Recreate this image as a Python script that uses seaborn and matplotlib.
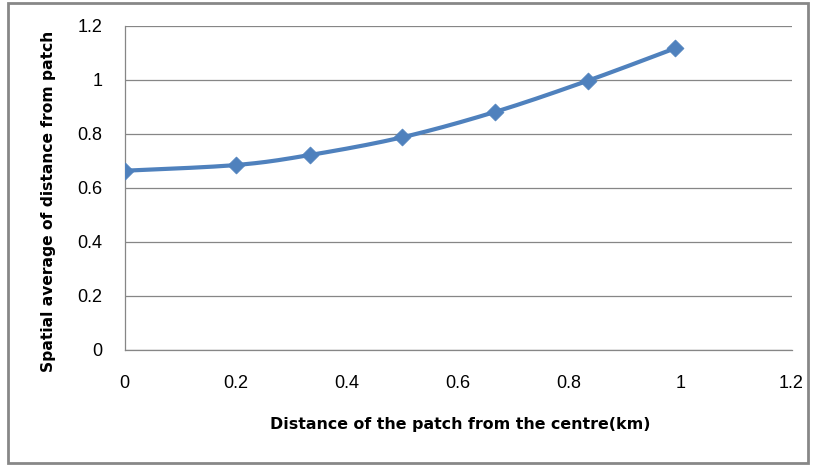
import numpy as np
import pandas as pd
import matplotlib
matplotlib.use("Agg")
import matplotlib.pyplot as plt
from matplotlib.patches import Rectangle
import seaborn as sns

# Distance of patch from centre (km) and spatial average of distance from patch
distance_km = [0.0, 0.2, 0.333, 0.5, 0.667, 0.833, 0.99]
spatial_avg = [0.664, 0.685, 0.722, 0.788, 0.882, 0.997, 1.117]

x_ticks = [0, 0.2, 0.4, 0.6, 0.8, 1, 1.2]
x_tick_labels = ["0", "0.2", "0.4", "0.6", "0.8", "1", "1.2"]
y_ticks = [0, 0.2, 0.4, 0.6, 0.8, 1, 1.2]
y_tick_labels = ["0", "0.2", "0.4", "0.6", "0.8", "1", "1.2"]

x_label = "Distance of the patch from the centre(km)"
y_label = "Spatial average of distance from patch"

LINE_BLUE = "#4F81BD"
GRID_GREY = "#868686"


def smooth_curve(xs, ys, steps=40):
    """Cubic Bezier smoothing through the points (Catmull-Rom style)."""
    p = np.column_stack([xs, ys]).astype(float)
    ext = np.vstack([p[0], p, p[-1]])
    out = []
    t = np.linspace(0, 1, steps)[:, None]
    for i in range(len(p) - 1):
        p0, p1, p2, p3 = ext[i], ext[i + 1], ext[i + 2], ext[i + 3]
        c1 = p1 + (p2 - p0) / 6.0
        c2 = p2 - (p3 - p1) / 6.0
        seg = ((1 - t) ** 3) * p1 + 3 * ((1 - t) ** 2) * t * c1 \
            + 3 * (1 - t) * t ** 2 * c2 + t ** 3 * p2
        out.append(seg if i == 0 else seg[1:])
    arr = np.vstack(out)
    return arr[:, 0], arr[:, 1]


sns.set_theme(style="white")
plt.rcParams["font.family"] = ["Liberation Sans", "DejaVu Sans"]
plt.rcParams["text.color"] = "black"
plt.rcParams["axes.labelcolor"] = "black"

fig = plt.figure(figsize=(8.16, 4.66), dpi=100)
ax = fig.add_axes([124.5 / 816, 1 - 350 / 466, 667 / 816, 324 / 466])

sx, sy = smooth_curve(distance_km, spatial_avg)
curve = pd.DataFrame({"x": sx, "y": sy})
points = pd.DataFrame({"x": distance_km, "y": spatial_avg})

sns.lineplot(data=curve, x="x", y="y", ax=ax, color=LINE_BLUE, linewidth=3,
             sort=False, estimator=None, zorder=3)
sns.scatterplot(data=points, x="x", y="y", ax=ax, color=LINE_BLUE, marker="D",
                s=75, edgecolor=LINE_BLUE, linewidth=0.5, zorder=4)

ax.set_xlim(0, 1.2)
ax.set_ylim(0, 1.2)
ax.set_xticks(x_ticks)
ax.set_xticklabels(x_tick_labels)
ax.set_yticks(y_ticks)
ax.set_yticklabels(y_tick_labels)

ax.yaxis.grid(True, color=GRID_GREY, linewidth=0.9)
ax.xaxis.grid(False)
ax.set_axisbelow(True)

for side in ("top", "right"):
    ax.spines[side].set_visible(False)
for side in ("left", "bottom"):
    ax.spines[side].set_color(GRID_GREY)
    ax.spines[side].set_linewidth(0.9)

ax.tick_params(axis="both", which="major", direction="out", length=5,
               width=0.9, color=GRID_GREY, labelsize=13, labelcolor="black")
ax.tick_params(axis="x", pad=13)
ax.tick_params(axis="y", pad=11)

ax.set_xlabel(x_label, fontsize=11.4, fontweight="bold",
              family=["DejaVu Sans"], color="black", va="center")
ax.set_ylabel(y_label, fontsize=11.2, fontweight="bold",
              family=["DejaVu Sans"], color="black", va="center")
ax.xaxis.set_label_coords(0.504, -(425 - 350) / 324)
ax.yaxis.set_label_coords(-(124.5 - 48) / 667, 0.46)

# Outer chart border
fig.patches.append(Rectangle((8 / 816, 3 / 466), 800 / 816, 460 / 466,
                             transform=fig.transFigure, fill=False,
                             edgecolor="#878787", linewidth=2))

fig.savefig("out.png", dpi=100)
